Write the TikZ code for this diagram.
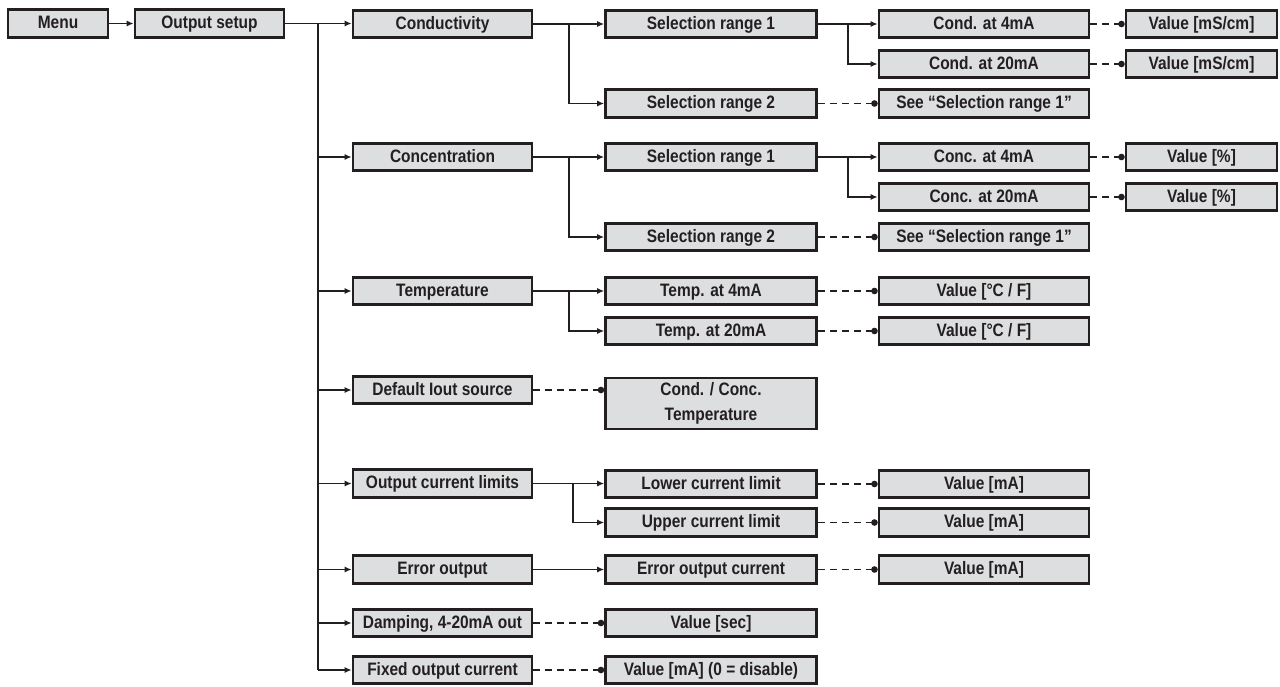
\documentclass[tikz,border=0pt]{standalone}
\usepackage{fontspec}
\setmainfont{Liberation Sans}[FakeStretch=0.86]
\usetikzlibrary{arrows.meta}
\definecolor{boxfill}{RGB}{221,222,224}
\definecolor{ink}{RGB}{35,31,32}
\begin{document}
\begin{tikzpicture}[x=1pt,y=-1pt,
  box/.style={draw=ink, fill=boxfill, line width=2.6pt, minimum height=27.5pt, inner sep=0pt,
    text height=12.6pt, text depth=2.2pt,
    font=\fontsize{18}{25}\selectfont\bfseries, text=ink},
  cA/.style={box, minimum width=100pt},
  cB/.style={box, minimum width=149pt},
  c2/.style={box, minimum width=179pt},
  c3/.style={box, minimum width=211pt},
  c4/.style={box, minimum width=210pt},
  c5/.style={box, minimum width=151pt},
  link/.style={draw=ink, line width=1.8pt},
  arr/.style={link, -{Latex[length=7pt,width=6pt]}},
  dl/.style={link, dash pattern=on 7pt off 5pt, -{Circle[length=6.5pt]}}]
\useasboundingbox (0,0) rectangle (1280,686);

% column 0/1
\node[cA] (menu) at (58,23.5) {Menu};
\node[cB] (osetup) at (209.5,23.5) {Output setup};
% column 2
\node[c2] (cond) at (442.5,24) {Conductivity};
\node[c2] (conc) at (442.5,157) {Concentration};
\node[c2] (temp) at (442.5,291) {Temperature};
\node[c2] (def) at (442.5,390) {Default Iout source};
\node[c2] (ocl) at (442.5,483.5) {Output current limits};
\node[c2] (err) at (442.5,569.5) {Error output};
\node[c2] (damp) at (442.5,623) {Damping, 4-20mA out};
\node[c2] (fix) at (442.5,670) {Fixed output current};
% column 3
\node[c3] (sr1a) at (711,24) {Selection range 1};
\node[c3] (sr2a) at (711,103.5) {Selection range 2};
\node[c3] (sr1b) at (711,157) {Selection range 1};
\node[c3] (sr2b) at (711,237) {Selection range 2};
\node[c3] (t4) at (711,291) {Temp. at 4mA};
\node[c3] (t20) at (711,331) {Temp. at 20mA};
\node[c3, minimum height=51pt, text height=, text depth=, align=center, anchor=north] (cc) at (711,376.5) {Cond. / Conc.\\Temperature};
\node[c3] (low) at (711,484) {Lower current limit};
\node[c3] (up) at (711,522.5) {Upper current limit};
\node[c3] (erc) at (711,569.5) {Error output current};
\node[c3] (dampv) at (711,623) {Value [sec]};
\node[c3] (fixv) at (711,670) {Value [mA] (0 = disable)};
% column 4
\node[c4] (c4a) at (984,24) {Cond. at 4mA};
\node[c4] (c20a) at (984,64) {Cond. at 20mA};
\node[c4] (seea) at (984,103.5) {See “Selection range 1”};
\node[c4] (c4b) at (984,157) {Conc. at 4mA};
\node[c4] (c20b) at (984,197) {Conc. at 20mA};
\node[c4] (seeb) at (984,237) {See “Selection range 1”};
\node[c4] (tv1) at (984,291) {Value [°C / F]};
\node[c4] (tv2) at (984,331) {Value [°C / F]};
\node[c4] (lowv) at (984,484) {Value [mA]};
\node[c4] (upv) at (984,522.5) {Value [mA]};
\node[c4] (errv) at (984,569.5) {Value [mA]};
% column 5
\node[c5] (v1) at (1201.5,24) {Value [mS/cm]};
\node[c5] (v2) at (1201.5,64) {Value [mS/cm]};
\node[c5] (v3) at (1201.5,157) {Value [\%]};
\node[c5] (v4) at (1201.5,197) {Value [\%]};

% branch coordinates
\coordinate (t) at (318,23.5);
\coordinate (b2) at (569,0);
\coordinate (b3) at (848,0);

% menu -> output setup -> trunk
\draw[arr] (menu) -- (osetup);
\draw[link] (osetup.east) -- (t);
\draw[link] ([yshift=-0.9pt]t) -- (t |- fix.west);
\draw[arr] (t) -- (t -| cond.west);
\foreach \n in {conc,temp,def,ocl,err,damp,fix}
  \draw[arr] (t |- \n.west) -- (\n.west);

% conductivity
\draw[arr] (cond.east) -- (sr1a.west);
\draw[arr] (b2 |- cond.east) |- (sr2a.west);
\draw[arr] (sr1a.east) -- (c4a.west);
\draw[arr] (b3 |- sr1a.east) |- (c20a.west);
\draw[dl] (sr2a.east) -- (seea.west);
\draw[dl] (c4a.east) -- (v1.west);
\draw[dl] (c20a.east) -- (v2.west);

% concentration
\draw[arr] (conc.east) -- (sr1b.west);
\draw[arr] (b2 |- conc.east) |- (sr2b.west);
\draw[arr] (sr1b.east) -- (c4b.west);
\draw[arr] (b3 |- sr1b.east) |- (c20b.west);
\draw[dl] (sr2b.east) -- (seeb.west);
\draw[dl] (c4b.east) -- (v3.west);
\draw[dl] (c20b.east) -- (v4.west);

% temperature
\draw[arr] (temp.east) -- (t4.west);
\draw[arr] (b2 |- temp.east) |- (t20.west);
\draw[dl] (t4.east) -- (tv1.west);
\draw[dl] (t20.east) -- (tv2.west);

% default iout source
\draw[dl] (def.east) -- (def.east -| cc.west);

% output current limits
\draw[arr] (ocl.east) -- (ocl.east -| low.west);
\draw[arr] ([xshift=4pt]b2 |- ocl.east) |- (up.west);
\draw[dl] (low.east) -- (lowv.west);
\draw[dl] (up.east) -- (upv.west);

% error output
\draw[arr] (err.east) -- (erc.west);
\draw[dl] (erc.east) -- (errv.west);

% damping, fixed
\draw[dl] (damp.east) -- (dampv.west);
\draw[dl] (fix.east) -- (fixv.west);
\end{tikzpicture}
\end{document}
